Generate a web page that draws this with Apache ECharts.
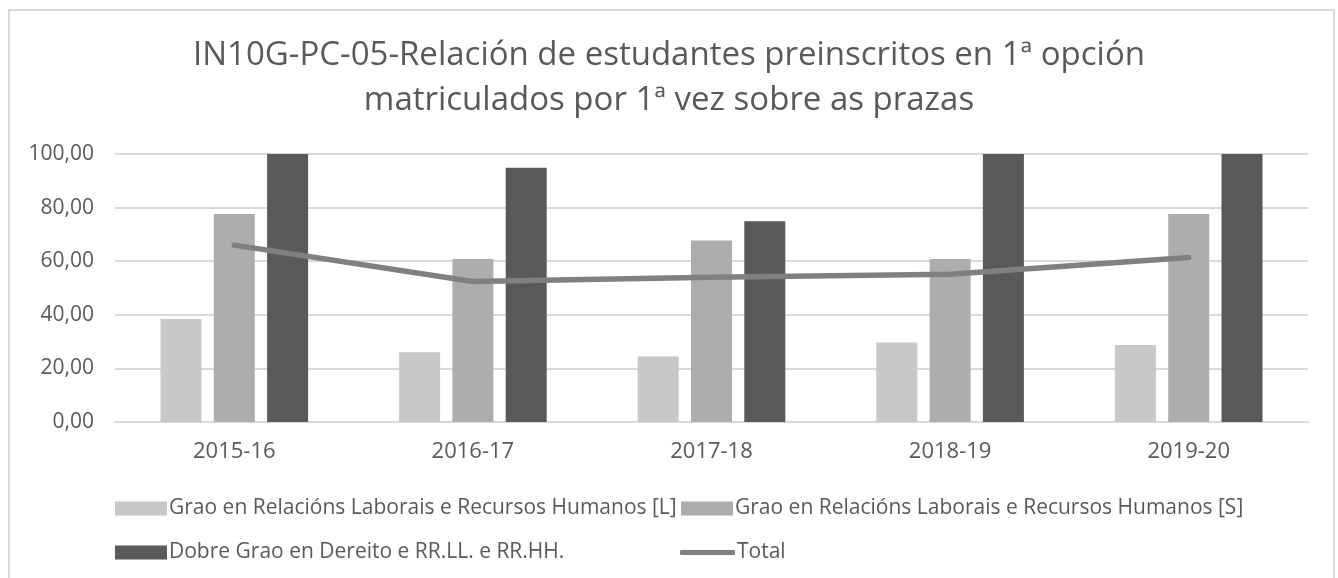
<!DOCTYPE html>
<html>
<head>
<meta charset="utf-8">
<script src="https://cdn.jsdelivr.net/npm/echarts@6/dist/echarts.min.js"></script>
<style>
html, body { margin: 0; padding: 0; background: #fff; overflow: hidden; }
#frame {
    position: absolute; left: 8px; top: 9px; width: 1327px; height: 600px;
    border: 2px solid #d9d9d9; box-sizing: border-box;
}
#myChart { position: absolute; left: 0; top: 0; width: 1338px; height: 578px; }
</style>
</head>
<body>
<div id="frame"></div>
<div id="myChart"></div>
<script>
// datos
let cursos = ['2015-16', '2016-17', '2017-18', '2018-19', '2019-20']
let nomes = [
    'Grao en Relacións Laborais e Recursos Humanos [L]',
    'Grao en Relacións Laborais e Recursos Humanos [S]',
    'Dobre Grao en Dereito e RR.LL. e RR.HH.',
    'Total'
]
let graoL = [38.4, 26.0, 24.4, 29.7, 28.7]
let graoS = [77.6, 60.8, 67.7, 60.8, 77.6]
let dobre = [100, 94.9, 74.9, 100, 100]
let total = [66.0, 52.4, 54.0, 55.1, 61.4]

let myChart = echarts.init(document.getElementById('myChart'))
let fonte = '"Open Sans", "Noto Sans", sans-serif'
let cor = '#595959'

function lenda(nome, left, top, icon) {
    return {
        data: [nome],
        left: left,
        top: top,
        itemWidth: icon === 'line' ? 55 : 52,
        itemHeight: icon === 'line' ? 5 : 14,
        itemGap: 6,
        icon: icon === 'line' ? 'roundRect' : 'rect',
        selectedMode: false,
        textStyle: { color: cor, fontSize: 21, fontFamily: fonte, padding: [0, 0, 0, -3] }
    }
}

let option = {
    animation: false,
    title: {
        text: 'IN10G-PC-05-Relación de estudantes preinscritos en 1ª opción\nmatriculados por 1ª vez sobre as prazas',
        left: 'center',
        top: 28,
        textStyle: { color: cor, fontSize: 33, fontWeight: 'normal', fontFamily: fonte, lineHeight: 45 }
    },
    legend: [
        lenda(nomes[0], 110, 493, 'rect'),
        lenda(nomes[1], 676, 493, 'rect'),
        lenda(nomes[2], 110, 537, 'rect'),
        lenda(nomes[3], 675, 537, 'line')
    ],
    grid: { left: 115, right: 30, top: 154, bottom: 156 },
    xAxis: {
        type: 'category',
        data: cursos,
        axisTick: { show: false },
        axisLine: { lineStyle: { color: '#d9d9d9', width: 2 } },
        axisLabel: { color: cor, fontSize: 22, fontFamily: fonte, margin: 19 }
    },
    yAxis: {
        type: 'value',
        min: 0,
        max: 100,
        interval: 20,
        axisLabel: {
            color: cor, fontSize: 21, fontFamily: fonte, margin: 21,
            formatter: v => v.toFixed(2).replace('.', ',')
        },
        splitLine: { lineStyle: { color: '#d9d9d9', width: 2 } }
    },
    series: [
        { name: nomes[0], type: 'bar', data: graoL, barWidth: 41, barGap: '30%', itemStyle: { color: '#c8c8c8' } },
        { name: nomes[1], type: 'bar', data: graoS, barWidth: 41, barGap: '30%', itemStyle: { color: '#adadad' } },
        { name: nomes[2], type: 'bar', data: dobre, barWidth: 41, barGap: '30%', itemStyle: { color: '#595959' } },
        {
            name: nomes[3], type: 'line', data: total, symbol: 'none',
            lineStyle: { color: '#808080', width: 5.5, cap: 'round', join: 'round' },
            itemStyle: { color: '#808080' }
        }
    ]
}
myChart.setOption(option)

window.addEventListener('resize', () => {
    myChart.resize()
})
</script>
</body>
</html>
